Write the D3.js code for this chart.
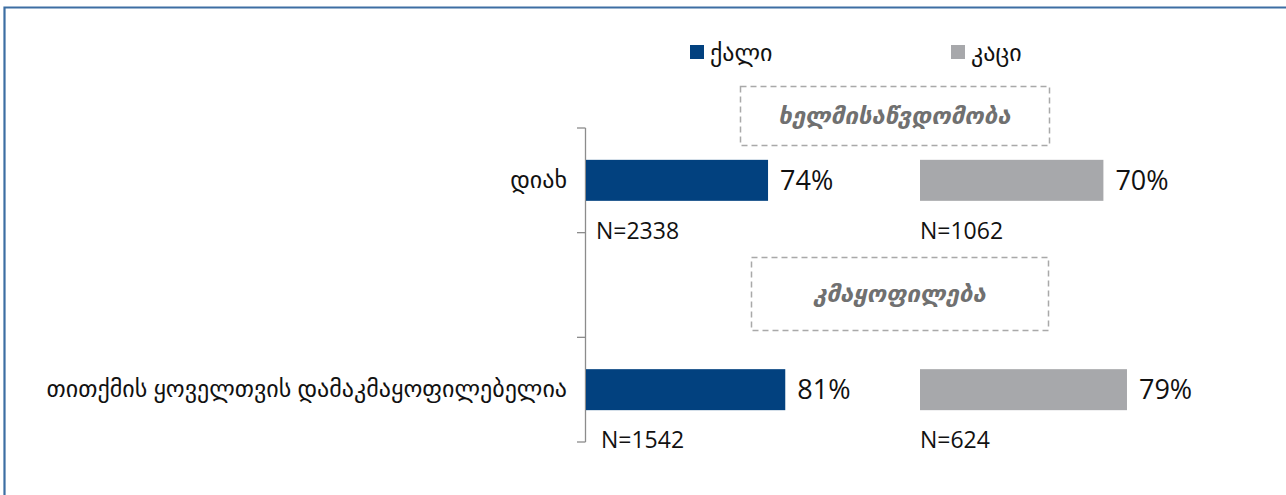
<!DOCTYPE html>
<html lang="ka">
<head>
<meta charset="UTF-8">
<title>chart</title>
<style>
  body { margin: 0; background: #fff; }
  svg text { font-family: "Open Sans", "DejaVu Sans", sans-serif; fill: #111; }
  .hdr { font-weight: bold; font-style: italic; fill: #707070; }
</style>
<script src="https://cdn.jsdelivr.net/npm/d3@7/dist/d3.min.js"></script>
</head>
<body>
<div id="chart"></div>
<script>
// categories (rows), with an empty spacer row between them
var categories = ["დიახ", "თითქმის ყოველთვის დამაკმაყოფილებელია"];
var rows = [categories[0], "", categories[1]];
var series = ["ქალი", "კაცი"];
var women = [74, 81];
var men = [70, 79];
var womenN = [2338, 1542];
var menN = [1062, 624];
var sections = ["ხელმისაწვდომობა", "კმაყოფილება"];

var colors = ["#02417f", "#a7a8ab"];

var width = 1286, height = 495;
var svg = d3.select("#chart").append("svg")
    .attr("width", width)
    .attr("height", height);

// frame
svg.append("path")
    .attr("d", "M4.5,495 V7.5 H1286")
    .attr("fill", "none")
    .attr("stroke", "#3d6ea3")
    .attr("stroke-width", 2.2);

var y = d3.scaleBand().domain(rows).range([128, 442]);
var xW = d3.scaleLinear().domain([0, 100]).range([586, 586 + 246]);
var xM = d3.scaleLinear().domain([0, 100]).range([920, 920 + 262]);
var barH = 41;
var barY = function(i) { return y(categories[i]) + (y.bandwidth() - barH) / 2; };

// axis
var ax = svg.append("g").attr("transform", "translate(586,0)")
    .call(d3.axisLeft(y).tickSize(0).tickPadding(19).tickValues(categories));
ax.select(".domain").remove();
ax.selectAll("text").style("font-size", "24px").attr("fill", "#111");
var axG = svg.append("g").attr("stroke", "#8c8c8c").attr("stroke-width", 1.3);
axG.append("line").attr("x1", 585.5).attr("x2", 585.5)
    .attr("y1", y.range()[0]).attr("y2", y.range()[1]);
var bounds = rows.map(function(r) { return y(r); }).concat([y.range()[1]]);
axG.selectAll("line.t").data(bounds).enter().append("line")
    .attr("class", "t")
    .attr("x1", 577).attr("x2", 585.5)
    .attr("y1", function(d) { return d; }).attr("y2", function(d) { return d; });

// bars
function drawSeries(vals, ns, x, color, nDx) {
  var g = svg.append("g");
  g.selectAll("rect").data(vals).enter().append("rect")
      .attr("x", x(0))
      .attr("y", function(d, i) { return barY(i); })
      .attr("width", function(d) { return x(d) - x(0); })
      .attr("height", barH)
      .attr("fill", color);
  g.selectAll("text.v").data(vals).enter().append("text")
      .attr("class", "v")
      .attr("x", function(d) { return x(d) + 12; })
      .attr("y", function(d, i) { return barY(i) + barH / 2; })
      .attr("dy", "0.36em")
      .style("font-size", "27px")
      .text(function(d) { return d + "%"; });
  g.selectAll("text.n").data(ns).enter().append("text")
      .attr("class", "n")
      .attr("x", function(d, i) { return x(0) + nDx[i]; })
      .attr("y", function(d, i) { return barY(i) + barH + 38; })
      .style("font-size", "23px")
      .text(function(d) { return "N=" + d; });
}
drawSeries(women, womenN, xW, colors[0], [10, 15]);
drawSeries(men, menN, xM, colors[1], [0, 0]);

// legend
var legX = [690, 951];
var leg = svg.append("g").selectAll("g").data(series).enter().append("g")
    .attr("transform", function(d, i) { return "translate(" + legX[i] + ",45)"; });
leg.append("rect").attr("width", 14).attr("height", 14)
    .attr("fill", function(d, i) { return colors[i]; });
leg.append("text").attr("x", 20).attr("y", 7).attr("dy", "0.36em")
    .style("font-size", "24px")
    .text(function(d) { return d; });

// section header boxes
var boxes = [[740, 86, 309, 59], [751, 257, 297, 73]];
var hb = svg.append("g").selectAll("g").data(sections).enter().append("g");
hb.append("rect")
    .attr("x", function(d, i) { return boxes[i][0] + 0.5; })
    .attr("y", function(d, i) { return boxes[i][1] + 0.5; })
    .attr("width", function(d, i) { return boxes[i][2]; })
    .attr("height", function(d, i) { return boxes[i][3]; })
    .attr("fill", "none")
    .attr("stroke", "#a9a9a9")
    .attr("stroke-width", 1.5)
    .attr("stroke-dasharray", "6,4");
hb.append("text")
    .attr("class", "hdr")
    .attr("text-anchor", "middle")
    .attr("x", function(d, i) { return boxes[i][0] + boxes[i][2] / 2; })
    .attr("y", function(d, i) { return boxes[i][1] + boxes[i][3] / 2; })
    .attr("dy", "0.36em")
    .style("font-size", "24px")
    .text(function(d) { return d; });
</script>
</body>
</html>
